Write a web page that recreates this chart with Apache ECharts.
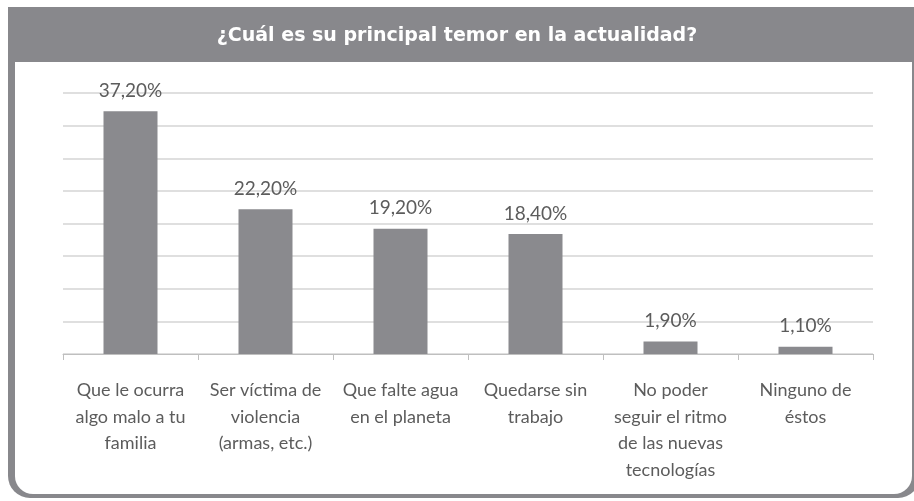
<!DOCTYPE html>
<html lang="es">
<head>
    <meta charset="UTF-8">
    <title>Temor principal</title>
    <style>
        html, body { margin: 0; padding: 0; background: #fff; }
        #main { width: 914px; height: 501px; }
    </style>
</head>
<body>
<div id="main"></div>
<script src="https://cdn.jsdelivr.net/npm/echarts@6/dist/echarts.min.js"></script>
<script>
    // datos
    const titulo = '¿Cuál es su principal temor en la actualidad?';
    const categorias = [
        'Que le ocurra\nalgo malo a tu\nfamilia',
        'Ser víctima de\nviolencia\n(armas, etc.)',
        'Que falte agua\nen el planeta',
        'Quedarse sin\ntrabajo',
        'No poder\nseguir el ritmo\nde las nuevas\ntecnologías',
        'Ninguno de\néstos'
    ];
    const valores = [37.2, 22.2, 19.2, 18.4, 1.9, 1.1];

    const gris = '#88888c';
    const texto = '#5c5c5c';

    const myChart = echarts.init(document.getElementById('main'), null, {renderer: 'canvas'});

    const option = {
        animation: false,
        backgroundColor: '#fff',
        grid: { left: 63, right: 41, top: 93, bottom: 147 },
        graphic: [
            // marco gris con esquinas redondeadas abajo
            { type: 'rect', z: -10, silent: true,
              shape: { x: 8, y: 7, width: 912, height: 491, r: [0, 0, 22, 22] },
              style: { fill: gris } },
            { type: 'rect', z: -9, silent: true,
              shape: { x: 15, y: 62, width: 897, height: 432, r: [0, 0, 18, 18] },
              style: { fill: '#fff' } },
            { type: 'text', z: 10, silent: true,
              left: 'center', top: 27,
              style: { text: titulo, fill: '#fff', font: 'bold 19px "DejaVu Sans"' } }
        ],
        xAxis: {
            type: 'category',
            data: categorias,
            axisLine: { lineStyle: { color: '#bfbfbf', width: 1 } },
            axisTick: { show: true, length: 6, lineStyle: { color: '#bfbfbf' } },
            axisLabel: {
                interval: 0,
                margin: 23,
                color: texto,
                fontFamily: 'Lato',
                fontSize: 18,
                lineHeight: 26.5
            }
        },
        yAxis: {
            type: 'value',
            min: 0,
            max: 40,
            interval: 5,
            axisLabel: { show: false },
            axisLine: { show: false },
            axisTick: { show: false },
            splitLine: { lineStyle: { color: '#d4d4d4', width: 1.5 } }
        },
        series: [{
            type: 'bar',
            data: valores,
            barWidth: '40%',
            itemStyle: { color: '#8a8a8e' },
            label: {
                show: true,
                position: 'top',
                distance: 11,
                color: texto,
                fontFamily: 'Lato',
                fontSize: 19,
                formatter: p => p.value.toFixed(2).replace('.', ',') + '%'
            }
        }]
    };

    myChart.setOption(option);
</script>
</body>
</html>
